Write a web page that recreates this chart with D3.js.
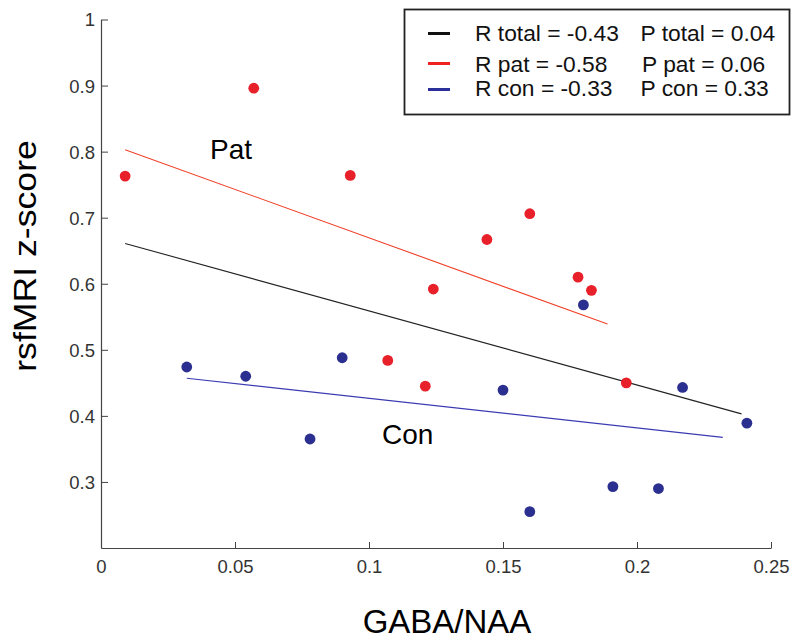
<!DOCTYPE html>
<html>
<head>
<meta charset="utf-8">
<script src="https://cdn.jsdelivr.net/npm/d3@7"></script>
<style>
html,body{margin:0;padding:0;background:#fff;}
svg{display:block;font-family:Arial,"Liberation Sans",Helvetica,sans-serif;}
</style>
</head>
<body>
<svg id="chart" width="800" height="642"></svg>
<script>
// ---- data ----
const patX = [0.009, 0.057, 0.093, 0.160, 0.144, 0.124, 0.178, 0.183, 0.107, 0.121, 0.196];
const patY = [0.763, 0.896, 0.764, 0.706, 0.667, 0.592, 0.610, 0.590, 0.484, 0.445, 0.450];
const conX = [0.180, 0.032, 0.054, 0.090, 0.078, 0.150, 0.217, 0.241, 0.191, 0.208, 0.160];
const conY = [0.568, 0.474, 0.460, 0.488, 0.365, 0.439, 0.443, 0.389, 0.293, 0.290, 0.255];
// regression line end points [x0, x1], [y0, y1]
const fitTotalX = [0.009, 0.239];
const fitTotalY = [0.661, 0.403];
const fitPatX = [0.009, 0.189];
const fitPatY = [0.803, 0.539];
const fitConX = [0.032, 0.232];
const fitConY = [0.457, 0.3675];
const xTicks = [0, 0.05, 0.1, 0.15, 0.2, 0.25];
const xTickLabels = ["0", "0.05", "0.1", "0.15", "0.2", "0.25"];
const yTicks = [0.3, 0.4, 0.5, 0.6, 0.7, 0.8, 0.9, 1];
const yTickLabels = ["0.3", "0.4", "0.5", "0.6", "0.7", "0.8", "0.9", "1"];
const legendLabelsR = ["R total = -0.43", "R pat = -0.58", "R con = -0.33"];
const legendLabelsP = ["P total = 0.04", "P pat = 0.06", "P con = 0.33"];
const xTitle = "GABA/NAA";
const yTitle = "rsfMRI z-score";

// ---- styles ----
const RED_DOT = "#e8202a", BLUE_DOT = "#2b2f8f";
const RED_LINE = "#f0412a", BLUE_LINE = "#3b3bb3", BLACK_LINE = "#222";
const AXIS = "#444", TICKTXT = "#333";

const svg = d3.select("#chart");
const x = d3.scaleLinear().domain([0, 0.25]).range([101, 771]);
const y = d3.scaleLinear().domain([0.2, 1]).range([548, 19.5]);

// axes
const gx = svg.append("g").attr("transform", "translate(0,548)")
  .call(d3.axisBottom(x).tickValues(xTicks).tickFormat((d, i) => xTickLabels[i])
    .tickSizeInner(-6).tickSizeOuter(0).tickPadding(12));
const gy = svg.append("g").attr("transform", "translate(101,0)")
  .call(d3.axisLeft(y).tickValues(yTicks).tickFormat((d, i) => yTickLabels[i])
    .tickSizeInner(-7).tickSizeOuter(0).tickPadding(6));
[gx, gy].forEach(g => {
  g.select(".domain").attr("stroke", AXIS).attr("stroke-width", 1.2);
  g.selectAll(".tick line").attr("stroke", AXIS).attr("stroke-width", 1);
  g.selectAll(".tick text").attr("fill", TICKTXT).style("font-size", "18.5px")
    .style("font-family", "Arial, 'Liberation Sans', sans-serif");
});
// hide the 0 tick mark on x (corner)
gx.selectAll(".tick").filter(d => d === 0).select("line").remove();
gy.selectAll(".tick text").attr("dy", "0.35em");

// axis titles
svg.append("text").attr("x", 447).attr("y", 633).attr("text-anchor", "middle")
  .style("font-size", "33px").attr("fill", "#000").text(xTitle);
svg.append("text").attr("transform", "translate(36,256) rotate(-90) scale(1.15,1)")
  .attr("text-anchor", "middle").style("font-size", "31px").attr("fill", "#000").text(yTitle);

// regression lines
const fits = [
  {xs: fitTotalX, ys: fitTotalY, c: BLACK_LINE},
  {xs: fitPatX, ys: fitPatY, c: RED_LINE},
  {xs: fitConX, ys: fitConY, c: BLUE_LINE}
];
fits.forEach(f => {
  svg.append("line")
    .attr("x1", x(f.xs[0])).attr("y1", y(f.ys[0]))
    .attr("x2", x(f.xs[1])).attr("y2", y(f.ys[1]))
    .attr("stroke", f.c).attr("stroke-width", 1.1);
});

// points
svg.append("g").selectAll("circle").data(patX.map((v, i) => [v, patY[i]]))
  .join("circle").attr("cx", d => x(d[0])).attr("cy", d => y(d[1])).attr("r", 5.4)
  .attr("fill", RED_DOT);
svg.append("g").selectAll("circle").data(conX.map((v, i) => [v, conY[i]]))
  .join("circle").attr("cx", d => x(d[0])).attr("cy", d => y(d[1])).attr("r", 5.4)
  .attr("fill", BLUE_DOT);

// group labels
svg.append("text").attr("x", 210).attr("y", 159).style("font-size", "28px").attr("fill", "#000").text("Pat");
svg.append("text").attr("x", 382).attr("y", 444).style("font-size", "28px").attr("fill", "#000").text("Con");

// legend
const lg = svg.append("g");
lg.append("rect").attr("x", 404.5).attr("y", 9.5).attr("width", 385).attr("height", 105)
  .attr("fill", "#fff").attr("stroke", "#222").attr("stroke-width", 1.8);
const legColors = ["#111", "#ee2222", "#2b2f99"];
const legY = [33.5, 63.5, 89.5];
const legBase = [40.7, 71.7, 95.7];
const legPx = [640.5, 642, 640.5];
legColors.forEach((c, i) => {
  lg.append("line").attr("x1", 428).attr("x2", 450).attr("y1", legY[i]).attr("y2", legY[i])
    .attr("stroke", c).attr("stroke-width", 3);
  lg.append("text").attr("x", 475).attr("y", legBase[i]).style("font-size", "22.8px")
    .attr("fill", "#111").text(legendLabelsR[i]);
  lg.append("text").attr("x", legPx[i]).attr("y", legBase[i]).style("font-size", "22.8px")
    .attr("fill", "#111").text(legendLabelsP[i]);
});
</script>
</body>
</html>
